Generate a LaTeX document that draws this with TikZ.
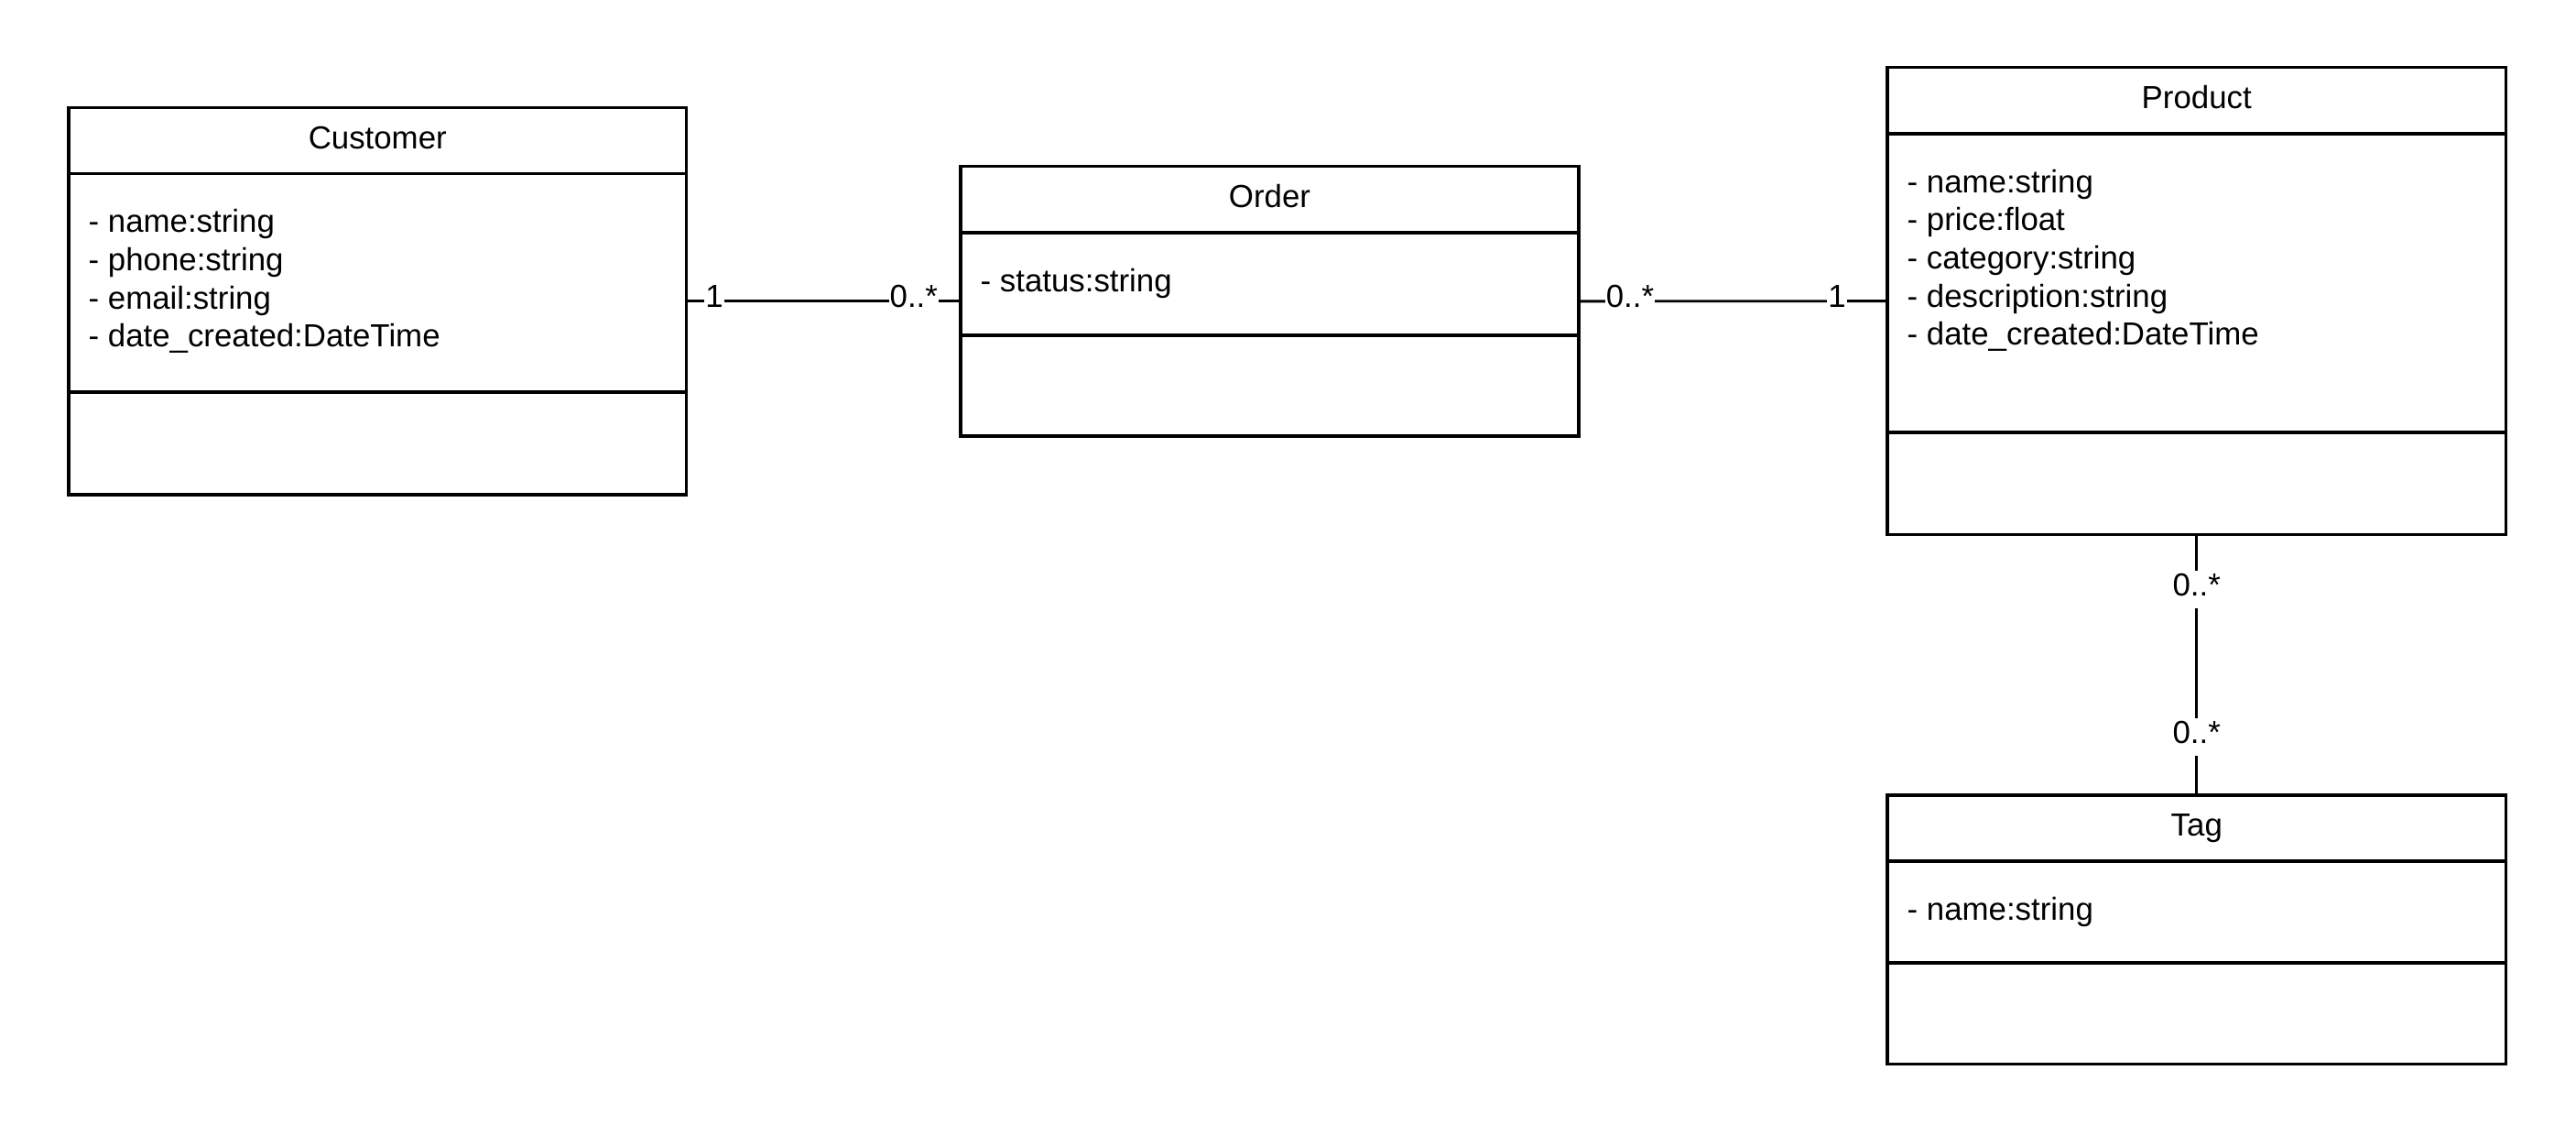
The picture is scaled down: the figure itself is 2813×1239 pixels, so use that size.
\documentclass[tikz,border=0pt]{standalone}
\usepackage{fontspec}
\setmainfont{Liberation Sans}
\usetikzlibrary{fit}
\newcommand\umlfont{\fontsize{10.45pt}{12.5pt}\selectfont}
\tikzset{
  classbox/.style={draw=black, line width=1.05pt, inner sep=0pt, outer sep=0pt},
  divider/.style={draw=black, line width=1.05pt},
  ctitle/.style={anchor=base, inner sep=0pt, font=\umlfont},
  cattr/.style={anchor=base west, inner sep=0pt, font=\umlfont},
  assoc/.style={draw=black, line width=0.85pt},
  mult/.style={fill=white, inner xsep=0.3pt, inner ysep=0pt, text height=8.2pt, text depth=4.2pt, font=\umlfont},
}
% name, x1, y1, x2, y2, header line y, divider y, title, attributes
\newcommand\umlclass[9]{%
  \node[classbox, fit={(#2,#3) (#4,#5)}] (#1) {};
  \draw[divider] (#2,#6) -- (#4,#6);
  \draw[divider] (#2,#7) -- (#4,#7);
  \node[ctitle] (#1-title) at ({(#2+#4)/2}, #3+44.8) {#8};
  \foreach \txt [count=\i from 0] in {#9} {%
    \node[cattr] (#1-attr\i) at (#2+21, #6+64.3+41.6*\i) {\txt};
  }%
}
\begin{document}
\begin{tikzpicture}[x=0.3pt, y=-0.3pt]
  \fill[white] (0,0) rectangle (2813,1239);
  \useasboundingbox (0,0) rectangle (2813,1239);

  \umlclass{customer}{75}{117.7}{749.5}{540}{189.5}{428}{Customer}%
    {- name:string, - phone:string, - email:string, - date\_created:DateTime}
  \umlclass{order}{1049}{181.7}{1724}{476}{254}{366}{Order}%
    {- status:string}
  \umlclass{product}{2061}{73.7}{2736.5}{583.5}{146}{472}{Product}%
    {- name:string, - price:float, - category:string, - description:string, - date\_created:DateTime}
  \umlclass{tag}{2061}{868}{2736.5}{1161.5}{940}{1051}{Tag}%
    {- name:string}

  \draw[assoc] (customer.east) -- node[mult, pos=0.102] (m1) {1}
                                  node[mult, pos=0.829] (m2) {0..*} (order.west);
  \draw[assoc] (order.east) -- node[mult, pos=0.166] (m3) {0..*}
                               node[mult, pos=0.837] (m4) {1} (product.west);
  \draw[assoc] (product.south) -- node[mult, pos=0.2105] (m5) {0..*}
                                  node[mult, pos=0.777] (m6) {0..*} (tag.north);
\end{tikzpicture}
\end{document}
